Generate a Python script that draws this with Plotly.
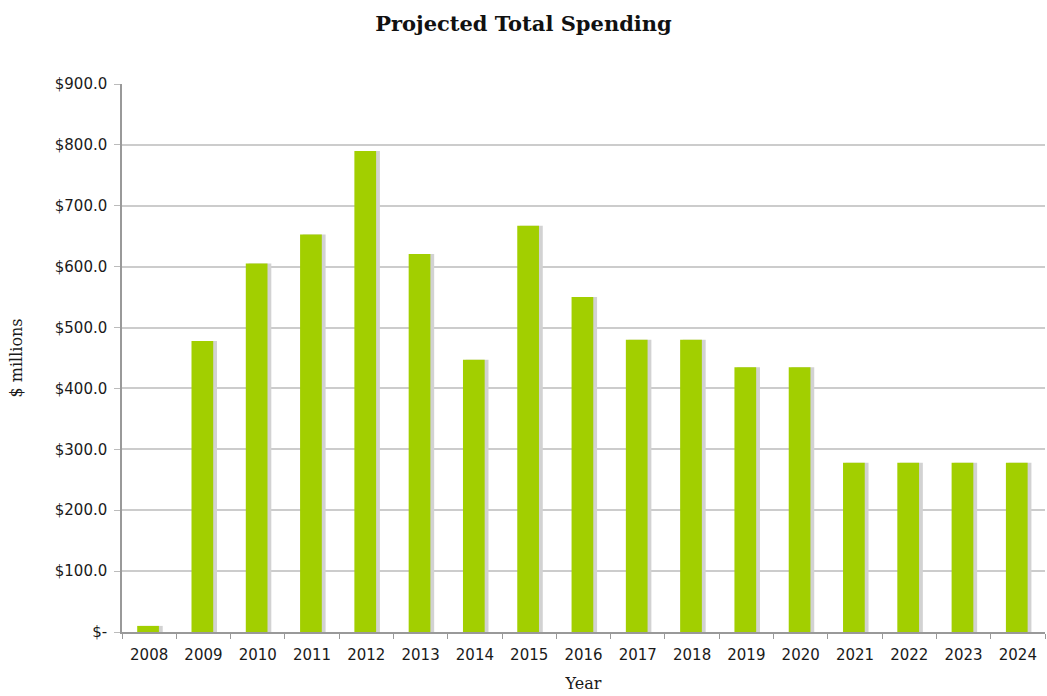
import plotly.graph_objects as go

years = ["2008", "2009", "2010", "2011", "2012", "2013", "2014", "2015", "2016",
         "2017", "2018", "2019", "2020", "2021", "2022", "2023", "2024"]
spending = [10, 478, 605, 653, 790, 621, 447, 667, 550,
            480, 480, 435, 435, 278, 278, 278, 278]

tick_vals = [0, 100, 200, 300, 400, 500, 600, 700, 800, 900]
tick_text = ["$-", "$100.0", "$200.0", "$300.0", "$400.0", "$500.0",
             "$600.0", "$700.0", "$800.0", "$900.0"]

fig = go.Figure()
# soft shadow on the right side of each bar
fig.add_trace(go.Bar(x=years, y=spending, width=0.42, offset=-0.17,
                     marker=dict(color="#d2d2d2", line=dict(width=0)),
                     hoverinfo="skip", showlegend=False))
fig.add_trace(go.Bar(x=years, y=spending, width=0.4, offset=-0.22,
                     marker=dict(color="#a2cf00", line=dict(width=0)),
                     showlegend=False))

fig.update_layout(
    width=1047, height=696,
    margin=dict(l=122, r=2, t=84, b=64),
    barmode="overlay",
    plot_bgcolor="white", paper_bgcolor="white",
    title=dict(text="<b>Projected Total Spending</b>", x=0.5, xanchor="center",
               y=0.966, yanchor="middle",
               font=dict(family="DejaVu Serif", size=21, color="#111")),
    font=dict(family="DejaVu Sans", color="#222"),
)
fig.update_xaxes(
    type="category", tickson="boundaries", ticks="outside", ticklen=5,
    tickcolor="#999", showline=True, linecolor="#999", linewidth=1.5,
    showgrid=False, tickfont=dict(family="DejaVu Sans", size=15, color="#1a1a1a"),
    ticklabelstandoff=8,
    title=dict(text="Year", font=dict(family="DejaVu Serif", size=16, color="#1a1a1a"), standoff=15),
    mirror=False,
)
fig.update_yaxes(
    range=[0, 900], tickvals=tick_vals, ticktext=tick_text,
    ticks="outside", ticklen=6, tickcolor="#bbb",
    showgrid=True, gridcolor="#cccccc", gridwidth=1.5,
    showline=True, linecolor="#999", linewidth=1.5, zeroline=False,
    tickfont=dict(family="DejaVu Sans", size=15, color="#1a1a1a"),
    ticklabelstandoff=4,
    title=dict(text="$ millions", font=dict(family="DejaVu Serif", size=16, color="#1a1a1a"), standoff=28),
)

fig.write_html("out.html")
